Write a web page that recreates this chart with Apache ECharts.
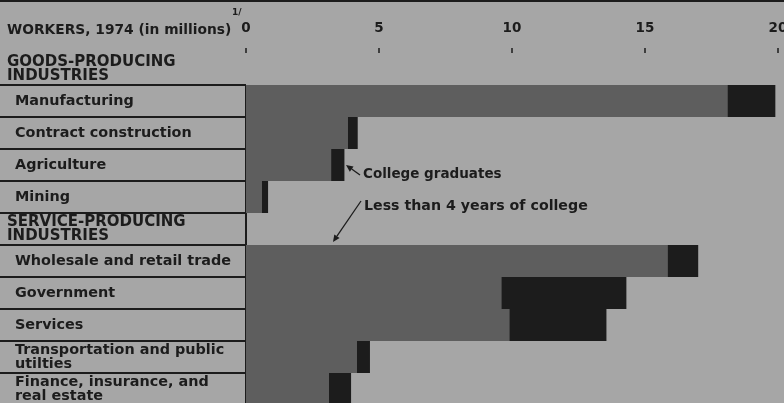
<!DOCTYPE html>
<html>
<head>
<meta charset="utf-8">
<script src="https://cdn.jsdelivr.net/npm/echarts@6/dist/echarts.min.js"></script>
<style>
  html, body { margin: 0; padding: 0; background: #a6a6a6; }
  #chart { width: 784px; height: 403px; }
</style>
</head>
<body>
<div id="chart"></div>
<script>
// ─── Data (millions of workers, 1974) ───────────────────────────────────────
const categories = [
  'GOODS-PRODUCING\nINDUSTRIES',
  'Manufacturing',
  'Contract construction',
  'Agriculture',
  'Mining',
  'SERVICE-PRODUCING\nINDUSTRIES',
  'Wholesale and retail trade',
  'Government',
  'Services',
  'Transportation and public\nutilties',
  'Finance, insurance, and\nreal estate',
];
const headerRows = ['GOODS-PRODUCING\nINDUSTRIES', 'SERVICE-PRODUCING\nINDUSTRIES'];

// header rows carry no bars
const lessThan4Years = [null, 18.1, 3.83, 3.2, 0.6, null, 15.85, 9.6, 9.9, 4.17, 3.12];
const collegeGrads   = [null, 1.8, 0.37, 0.5, 0.23, null, 1.15, 4.7, 3.65, 0.49, 0.83];

const xTicks = [0, 5, 10, 15, 20];

// ─── Layout ─────────────────────────────────────────────────────────────────
const GRID_LEFT = 246;
const GRID_TOP = 53;
const ROW_H = 32;
const INK = '#1c1c1c';
const FONT = '"DejaVu Sans", sans-serif';

function arrow(x1, y1, x2, y2) {
  const a = Math.atan2(y2 - y1, x2 - x1);
  const len = 7, w = 3.2;
  const bx = x2 - len * Math.cos(a), by = y2 - len * Math.sin(a);
  const px = -Math.sin(a) * w, py = Math.cos(a) * w;
  return [
    { type: 'line', shape: { x1, y1, x2: bx, y2: by }, style: { stroke: INK, lineWidth: 1.3 } },
    { type: 'polygon', shape: { points: [[x2, y2], [bx + px, by + py], [bx - px, by - py]] }, style: { fill: INK } },
  ];
}

const chart = echarts.init(document.getElementById('chart'), null, { renderer: 'canvas' });

const nRows = categories.length;

chart.setOption({
  backgroundColor: '#a6a6a6',
  animation: false,
  title: {
    text: 'WORKERS, 1974 (in millions)',
    left: 2,
    top: 18,
    textStyle: { fontFamily: FONT, fontWeight: 'bold', fontSize: 13.8, color: INK },
  },
  grid: {
    left: GRID_LEFT, top: GRID_TOP, width: 532, height: ROW_H * nRows,
    outerBoundsMode: 'none', containLabel: false,
  },
  xAxis: {
    type: 'value',
    position: 'top',
    min: 0,
    max: 20,
    interval: 5,
    axisLine: { show: false },
    axisTick: { show: true, length: 5, lineStyle: { color: INK, width: 1.5 } },
    axisLabel: {
      margin: 18,
      fontFamily: FONT, fontWeight: 'bold', fontSize: 13.5, color: INK,
      formatter: v => (xTicks.includes(v) ? String(v) : ''),
    },
    splitLine: { show: false },
  },
  yAxis: {
    type: 'category',
    inverse: true,
    data: categories,
    axisLine: { show: false },
    axisTick: {
      show: true,
      length: GRID_LEFT,
      interval: i => i > 0,
      lineStyle: { color: INK, width: 2 },
    },
    axisLabel: {
      align: 'left',
      margin: GRID_LEFT - 7,
      formatter: v => {
        const tag = headerRows.includes(v) ? 'h' : 'c';
        return v.split('\n').map(s => `{${tag}|${s}}`).join('\n');
      },
      rich: {
        h: { fontFamily: FONT, fontWeight: 'bold', fontSize: 15, color: INK, lineHeight: 14 },
        c: { fontFamily: FONT, fontWeight: 'bold', fontSize: 14.4, color: INK, lineHeight: 14, padding: [0, 0, 0, 8] },
      },
    },
  },
  series: [
    {
      name: 'Less than 4 years of college',
      type: 'bar',
      stack: 'workers',
      data: lessThan4Years,
      barCategoryGap: 0,
      itemStyle: { color: '#5e5e5e' },
    },
    {
      name: 'College graduates',
      type: 'bar',
      stack: 'workers',
      data: collegeGrads,
      barCategoryGap: 0,
      itemStyle: { color: INK },
    },
  ],
  graphic: [
    // heavy rule across the top
    { type: 'rect', shape: { x: 0, y: 0, width: 784, height: 2 }, style: { fill: INK } },
    // vertical divider between labels and bars (starts below the first header)
    { type: 'line', shape: { x1: GRID_LEFT, y1: GRID_TOP + ROW_H, x2: GRID_LEFT, y2: GRID_TOP + ROW_H * nRows },
      style: { stroke: INK, lineWidth: 2 } },
    // footnote marker
    { type: 'text', left: 232, top: 8, style: { text: '1/', fontFamily: FONT, fontWeight: 'bold', fontSize: 9, fill: INK } },
    // annotations
    { type: 'text', left: 363, top: 167, style: { text: 'College graduates', fontFamily: FONT, fontWeight: 'bold', fontSize: 13.5, fill: INK } },
    ...arrow(360, 175, 346, 165),
    { type: 'text', left: 364, top: 199, style: { text: 'Less than 4 years of college', fontFamily: FONT, fontWeight: 'bold', fontSize: 14.2, fill: INK } },
    ...arrow(361, 201, 333, 242),
  ],
});
</script>
</body>
</html>
